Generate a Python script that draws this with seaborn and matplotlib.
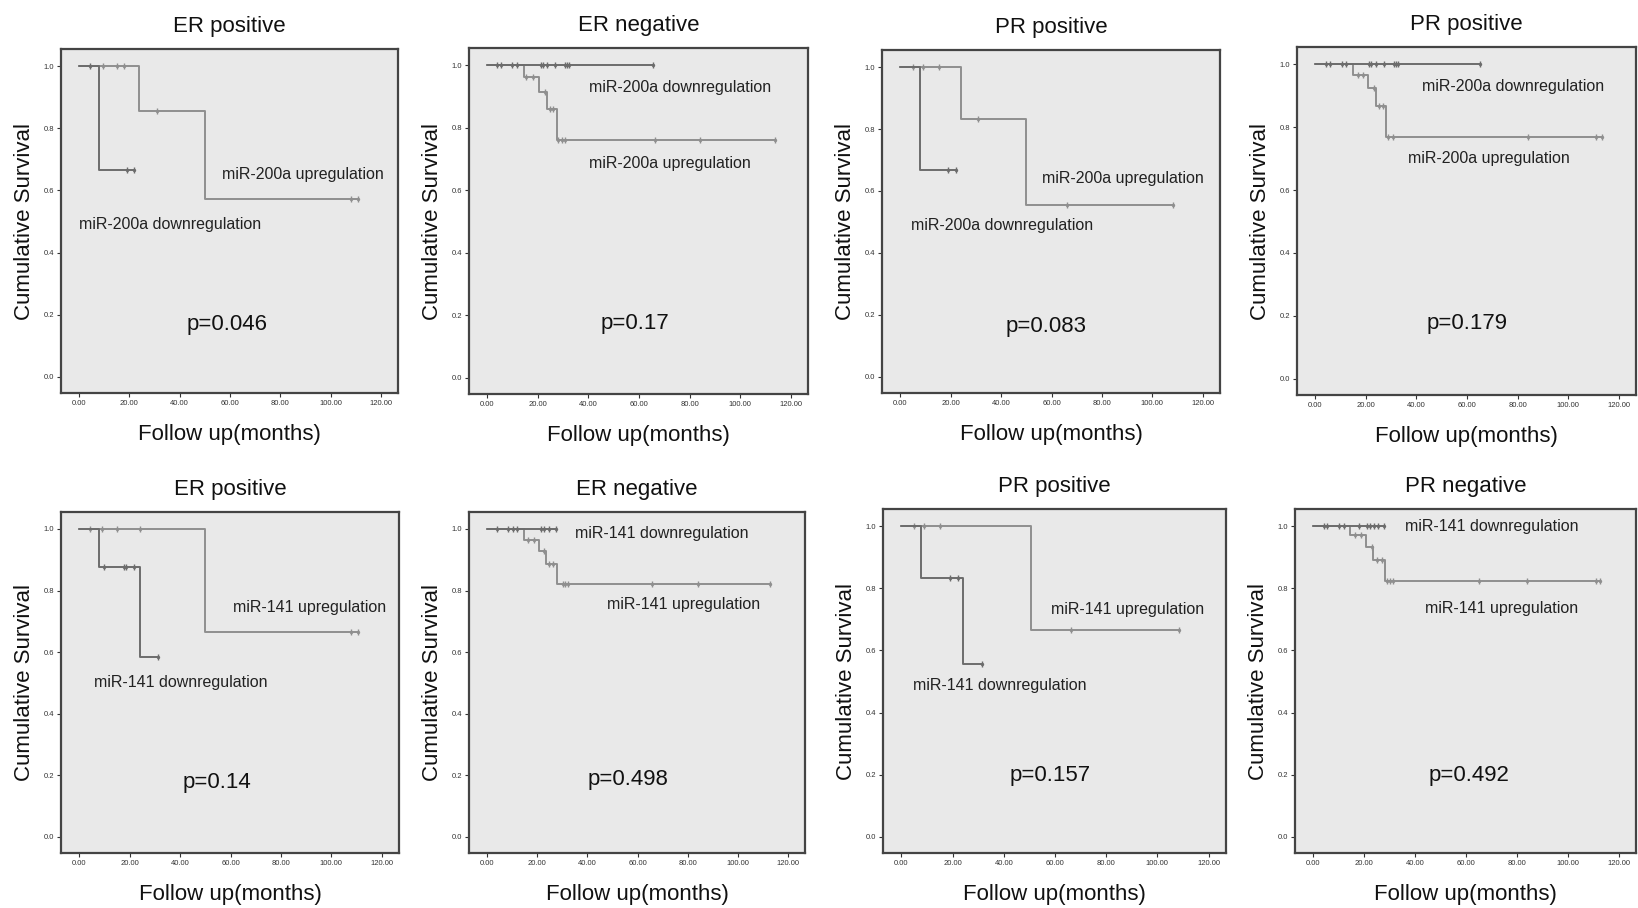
import numpy as np
import pandas as pd
import matplotlib
matplotlib.use("Agg")
import matplotlib.pyplot as plt
import seaborn as sns

# panel titles, p values and curve labels
titles = ["ER positive", "ER negative", "PR positive", "PR positive",
          "ER positive", "ER negative", "PR positive", "PR negative"]
pvals = ["p=0.046", "p=0.17", "p=0.083", "p=0.179",
         "p=0.14", "p=0.498", "p=0.157", "p=0.492"]
mirs = ["miR-200a"] * 4 + ["miR-141"] * 4

# Kaplan-Meier steps: event times, survival after each event, censored times
down_t = [[0, 8], [0], [0, 8], [0],
          [0, 7.9, 24], [0], [0, 7.6, 23.9], [0]]
down_s = [[1.0, 0.667], [1.0], [1.0, 0.667], [1.0],
          [1.0, 0.875, 0.583], [1.0], [1.0, 0.833, 0.556], [1.0]]
down_c = [[4.4, 19, 22],
          [3.7, 5.5, 9.6, 11.6, 21.1, 22.2, 23.7, 26.6, 30.7, 31.6, 32.3, 65.5],
          [19, 22],
          [4.3, 5.9, 10.4, 12.1, 21.3, 22.2, 23.9, 27.1, 31.3, 32.1, 32.6, 65],
          [9.9, 17.6, 18.7, 21.6, 31.1],
          [4, 8.3, 10.3, 12, 21.6, 22.9, 24.7, 27.3],
          [19.1, 22, 31.4],
          [4.2, 5.5, 10, 12, 17.8, 21.1, 22.1, 23.7, 25.6, 27.6]]

up_t = [[0, 24, 50], [0, 14.5, 20.4, 23.5, 27.4], [0, 24, 50], [0, 15, 20.9, 23.9, 27.8],
        [0, 49.8], [0, 14.9, 20.7, 23.6, 27.9], [0, 50.5], [0, 14.6, 20.8, 23.4, 28]]
up_s = [[1.0, 0.857, 0.571], [1.0, 0.962, 0.915, 0.861, 0.762],
        [1.0, 0.833, 0.556], [1.0, 0.966, 0.923, 0.866, 0.77],
        [1.0, 0.667], [1.0, 0.965, 0.93, 0.885, 0.821],
        [1.0, 0.667], [1.0, 0.972, 0.932, 0.89, 0.823]]
up_c = [[9.4, 15, 18, 31, 108, 111],
        [15.5, 18.2, 22.8, 24.8, 26.1, 27.8, 29.7, 30.6, 66.3, 84.1, 113.7],
        [5, 9.2, 15.2, 31, 66, 108.3],
        [17, 18.9, 23.2, 25.4, 26.7, 28.7, 30.7, 84.1, 110.9, 113.2],
        [4.4, 9, 15, 24, 107.7, 110.7],
        [16.3, 18.7, 22.7, 24.7, 26.3, 30.3, 31.2, 32.3, 65.6, 84, 112.9],
        [5, 8.9, 15, 66.1, 108.6],
        [16.5, 18.8, 23, 25, 26.9, 28.9, 30.2, 31.5, 65.1, 84, 110.9, 112.8]]

# label positions (data units): (x, y) for up label, down label, p value
up_lab = [(57, 0.652), (40.2, 0.687), (56.4, 0.639), (36.5, 0.70),
          (60.9, 0.746), (47.9, 0.755), (58.3, 0.733), (43.9, 0.735)]
down_lab = [(0, 0.49), (40.2, 0.93), (4.1, 0.487), (42.1, 0.93),
            (5.7, 0.503), (34.9, 0.985), (4.7, 0.487), (36, 1.0)]
p_lab = [(58.7, 0.167), (58.3, 0.172), (57.8, 0.164), (60, 0.174),
         (54.7, 0.178), (56.3, 0.185), (57.9, 0.199), (61.2, 0.196)]

# axes boxes in pixels: left, top, right, bottom
boxes = [(61, 49, 398, 393), (469, 48, 808, 394), (882, 50, 1220, 393), (1297, 47, 1636, 395),
         (61, 512, 399, 853), (469, 512, 805, 853), (883, 509, 1226, 853), (1295, 509, 1636, 853)]

sns.set_style("white")
plt.rcParams['font.family'] = ['Liberation Sans', 'DejaVu Sans']

W, H = 1638, 908
fig = plt.figure(figsize=(W / 100, H / 100), dpi=100)
fig.patch.set_facecolor("white")

DOWN_COL = "#6c6c6c"
UP_COL = "#8f8f8f"


def km_frame(times, surv, cens):
    end = max([times[-1]] + list(cens))
    xs = list(times) + [end]
    ys = list(surv) + [surv[-1]]
    line = pd.DataFrame({"t": xs, "s": ys})
    idx = np.searchsorted(np.array(times), np.array(cens), side="right") - 1
    marks = pd.DataFrame({"t": cens, "s": np.array(surv)[idx]})
    return line, marks


for i in range(8):
    l, t, r, b = boxes[i]
    ax = fig.add_axes([l / W, 1 - b / H, (r - l) / W, (b - t) / H])
    ax.set_facecolor("#e9e9e9")

    for times, surv, cens, col in [(up_t[i], up_s[i], up_c[i], UP_COL),
                                   (down_t[i], down_s[i], down_c[i], DOWN_COL)]:
        line, marks = km_frame(times, surv, cens)
        sns.lineplot(data=line, x="t", y="s", ax=ax, color=col, lw=1.4,
                     drawstyle="steps-post", estimator=None, sort=False)
        sns.scatterplot(data=marks, x="t", y="s", ax=ax, color=col, marker="|",
                        s=16, linewidth=1.0)
        sns.scatterplot(data=marks, x="t", y="s", ax=ax, color=col, marker="o",
                        s=6, linewidth=0)

    ax.set_xlim(-7.2, 126.8)
    ax.set_ylim(-0.052, 1.055)
    ax.set_xticks(np.arange(0, 121, 20))
    ax.set_xticklabels([f"{v:.2f}" for v in np.arange(0, 121, 20)])
    ax.set_yticks(np.arange(0, 1.01, 0.2))
    ax.set_yticklabels([f"{v:.1f}" for v in np.arange(0, 1.01, 0.2)])
    ax.tick_params(axis="both", which="both", direction="out", length=3, width=0.8,
                   labelsize=5.5, colors="#333333", pad=2, left=True, bottom=True)
    for sp in ax.spines.values():
        sp.set_color("#444444")
        sp.set_linewidth(1.6)

    ax.set_title(titles[i], fontsize=16, pad=12, color="#111111")
    ax.set_xlabel("Follow up(months)", fontsize=16, labelpad=12, color="#111111")
    ax.set_ylabel("Cumulative Survival", fontsize=16, labelpad=6, color="#111111")

    ax.text(up_lab[i][0], up_lab[i][1], f"{mirs[i]} upregulation", fontsize=11.5,
            ha="left", va="center", color="#222222")
    ax.text(down_lab[i][0], down_lab[i][1], f"{mirs[i]} downregulation", fontsize=11.5,
            ha="left", va="center", color="#222222")
    ax.text(p_lab[i][0], p_lab[i][1], pvals[i], fontsize=16, ha="center", va="center",
            color="#111111")

fig.savefig("out.png", dpi=100)
